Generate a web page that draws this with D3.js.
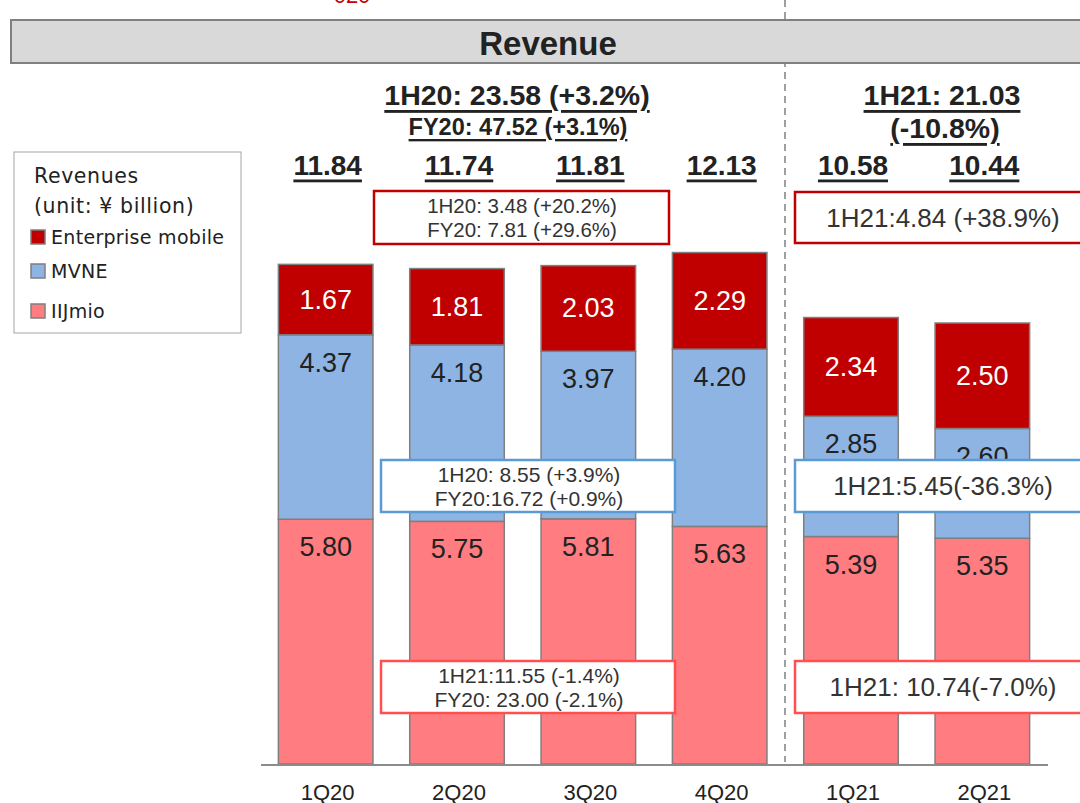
<!DOCTYPE html>
<html>
<meta charset="utf-8">
<style>
  body { margin: 0; background: #fff; }
  svg { display: block; }
</style>
<body>
  <script src="https://d3js.org/d3.v7.min.js"></script>
  <script>
    // data (unit: ¥ billion)
    const quarters = ["1Q20", "2Q20", "3Q20", "4Q20", "1Q21", "2Q21"];
    const iijmio = [5.80, 5.75, 5.81, 5.63, 5.39, 5.35];
    const mvne = [4.37, 4.18, 3.97, 4.20, 2.85, 2.60];
    const enterprise = [1.67, 1.81, 2.03, 2.29, 2.34, 2.50];
    const totals = ["11.84", "11.74", "11.81", "12.13", "10.58", "10.44"];
    const seriesNames = ["IIJmio", "MVNE", "Enterprise mobile"];
    const legendOrder = ["Enterprise mobile", "MVNE", "IIJmio"];

    const width = 1080, height = 803;
    const colors = {"IIJmio": "#ff7c80", "MVNE": "#8eb4e3", "Enterprise mobile": "#c00000"};

    const rows = quarters.map((q, i) => ({
      q: q, "IIJmio": iijmio[i], "MVNE": mvne[i], "Enterprise mobile": enterprise[i]
    }));

    const svg = d3.select("body").append("svg")
        .attr("width", width)
        .attr("height", height);

    const x = d3.scaleBand()
        .domain(quarters)
        .range([260, 1048])
        .paddingInner(0.28)
        .paddingOuter(0.14);

    const y = d3.scaleLinear()
        .domain([0, 12])
        .range([764, 764 - 12 * 42.2]);

    const arial = "'Liberation Sans', Arial, sans-serif";
    const legendFont = "'DejaVu Sans', sans-serif";

    // dashed divider between FY20 and FY21
    svg.append("line")
        .attr("x1", 785).attr("x2", 785)
        .attr("y1", 0).attr("y2", 762)
        .attr("stroke", "#808080")
        .attr("stroke-width", 1.5)
        .attr("stroke-dasharray", "7,5");

    // cut-off red text at the very top
    svg.append("text")
        .attr("x", 352).attr("y", 3)
        .attr("text-anchor", "middle")
        .attr("fill", "#c00000")
        .style("font", `22px ${arial}`)
        .text("020");

    // header band
    svg.append("rect")
        .attr("x", 11).attr("y", 20)
        .attr("width", 1080).attr("height", 43)
        .attr("fill", "#d9d9d9")
        .attr("stroke", "#808080")
        .attr("stroke-width", 2);
    svg.append("text")
        .attr("x", 548).attr("y", 43)
        .attr("text-anchor", "middle")
        .attr("dominant-baseline", "central")
        .attr("fill", "#222")
        .style("font", `bold 33px ${arial}`)
        .text("Revenue");

    // stacked bars
    const stack = d3.stack().keys(seriesNames)(rows);

    const layer = svg.append("g")
        .selectAll("g")
        .data(stack)
        .join("g")
          .attr("fill", d => colors[d.key]);

    layer.selectAll("rect")
        .data(d => d)
        .join("rect")
          .attr("x", d => x(d.data.q))
          .attr("y", d => y(d[1]))
          .attr("width", x.bandwidth())
          .attr("height", d => y(d[0]) - y(d[1]))
          .attr("stroke", "#7f7f7f")
          .attr("stroke-width", 1.5);

    // segment labels
    layer.selectAll("text")
        .data(d => d.map(p => Object.assign({key: d.key}, p)))
        .join("text")
          .attr("x", d => x(d.data.q) + x.bandwidth() / 2)
          .attr("y", d => d.key === "Enterprise mobile" ? (y(d[0]) + y(d[1])) / 2 : y(d[1]) + 28)
          .attr("text-anchor", "middle")
          .attr("dominant-baseline", "central")
          .attr("fill", d => d.key === "Enterprise mobile" ? "#fff" : "#222")
          .style("font", `27px ${arial}`)
          .text(d => d.data[d.key].toFixed(2));

    // baseline
    svg.append("line")
        .attr("x1", 261).attr("x2", 1048)
        .attr("y1", 765).attr("y2", 765)
        .attr("stroke", "#8c8c8c")
        .attr("stroke-width", 2);

    // quarter labels
    svg.append("g")
        .selectAll("text")
        .data(quarters)
        .join("text")
          .attr("x", d => x(d) + x.bandwidth() / 2 + 2)
          .attr("y", 792)
          .attr("text-anchor", "middle")
          .attr("dominant-baseline", "central")
          .attr("fill", "#222")
          .style("font", `22px ${arial}`)
          .text(d => d);

    // totals
    svg.append("g")
        .selectAll("text")
        .data(quarters)
        .join("text")
          .attr("x", d => x(d) + x.bandwidth() / 2 + 2)
          .attr("y", 165)
          .attr("text-anchor", "middle")
          .attr("dominant-baseline", "central")
          .attr("fill", "#222")
          .attr("text-decoration", "underline")
          .style("font", `bold 28px ${arial}`)
          .text((d, i) => totals[i]);

    // half-year headings
    const headings = [
      {x: 517, y: 95, size: 28.5, t: "1H20: 23.58 (+3.2%)"},
      {x: 518, y: 127, size: 23.5, t: "FY20: 47.52 (+3.1%)"},
      {x: 942, y: 95, size: 28.5, t: "1H21: 21.03"},
      {x: 945, y: 128, size: 28.5, t: "(-10.8%)"}
    ];
    svg.append("g")
        .selectAll("text")
        .data(headings)
        .join("text")
          .attr("x", d => d.x)
          .attr("y", d => d.y)
          .attr("text-anchor", "middle")
          .attr("dominant-baseline", "central")
          .attr("fill", "#222")
          .attr("text-decoration", "underline")
          .style("font", d => `bold ${d.size}px ${arial}`)
          .text(d => d.t);

    // callout boxes
    const boxes = [
      {x: 374, y: 191, w: 295, h: 53, c: "#c00000", size: 20.5, lines: ["1H20: 3.48 (+20.2%)", "FY20: 7.81 (+29.6%)"]},
      {x: 795, y: 192, w: 290, h: 51, c: "#c00000", size: 26, lines: ["1H21:4.84 (+38.9%)"]},
      {x: 381, y: 460, w: 294, h: 52, c: "#5b9bd5", size: 21, lines: ["1H20: 8.55 (+3.9%)", "FY20:16.72 (+0.9%)"]},
      {x: 795, y: 460, w: 290, h: 52, c: "#5b9bd5", size: 26, lines: ["1H21:5.45(-36.3%)"]},
      {x: 381, y: 661, w: 294, h: 52, c: "#ff4f4f", size: 21, lines: ["1H21:11.55 (-1.4%)", "FY20: 23.00 (-2.1%)"]},
      {x: 795, y: 661, w: 290, h: 52, c: "#ff4f4f", size: 26, lines: ["1H21: 10.74(-7.0%)"]}
    ];
    const box = svg.append("g")
        .selectAll("g")
        .data(boxes)
        .join("g");
    box.append("rect")
        .attr("x", d => d.x).attr("y", d => d.y)
        .attr("width", d => d.w).attr("height", d => d.h)
        .attr("fill", "#fff")
        .attr("stroke", d => d.c)
        .attr("stroke-width", 2.5);
    box.selectAll("text")
        .data(d => d.lines.map((t, i) => ({t, i, d})))
        .join("text")
          .attr("x", o => o.d.x + 148)
          .attr("y", o => o.d.lines.length === 1 ? o.d.y + o.d.h / 2 : o.d.y + 14.5 + o.i * 24)
          .attr("text-anchor", "middle")
          .attr("dominant-baseline", "central")
          .attr("fill", "#333")
          .style("font", o => `${o.d.size}px ${arial}`)
          .text(o => o.t);

    // legend
    const legend = svg.append("g");
    legend.append("rect")
        .attr("x", 14).attr("y", 152)
        .attr("width", 227).attr("height", 181)
        .attr("fill", "#fff")
        .attr("stroke", "#a6a6a6")
        .attr("stroke-width", 1);
    legend.selectAll("text.head")
        .data(["Revenues", "(unit: ¥ billion)"])
        .join("text")
          .attr("class", "head")
          .attr("x", 34)
          .attr("y", (d, i) => 176 + i * 30)
          .attr("dominant-baseline", "central")
          .attr("fill", "#222")
          .style("letter-spacing", "0.6px")
          .style("font-family", legendFont)
          .style("font-size", "20.5px")
          .text(d => d);
    const item = legend.selectAll("g.item")
        .data(legendOrder)
        .join("g")
          .attr("class", "item")
          .attr("transform", (d, i) => `translate(31,${237 + [0, 34, 74][i]})`);
    item.append("rect")
        .attr("x", 0).attr("y", -7)
        .attr("width", 14).attr("height", 14)
        .attr("fill", d => colors[d])
        .attr("stroke", "#7f7f7f")
        .attr("stroke-width", 1.5);
    item.append("text")
        .attr("x", 20).attr("y", 0)
        .attr("dominant-baseline", "central")
        .attr("fill", "#222")
        .style("letter-spacing", "0.3px")
        .style("font", `19px ${legendFont}`)
        .text(d => d);
  </script>
</body>
</html>
